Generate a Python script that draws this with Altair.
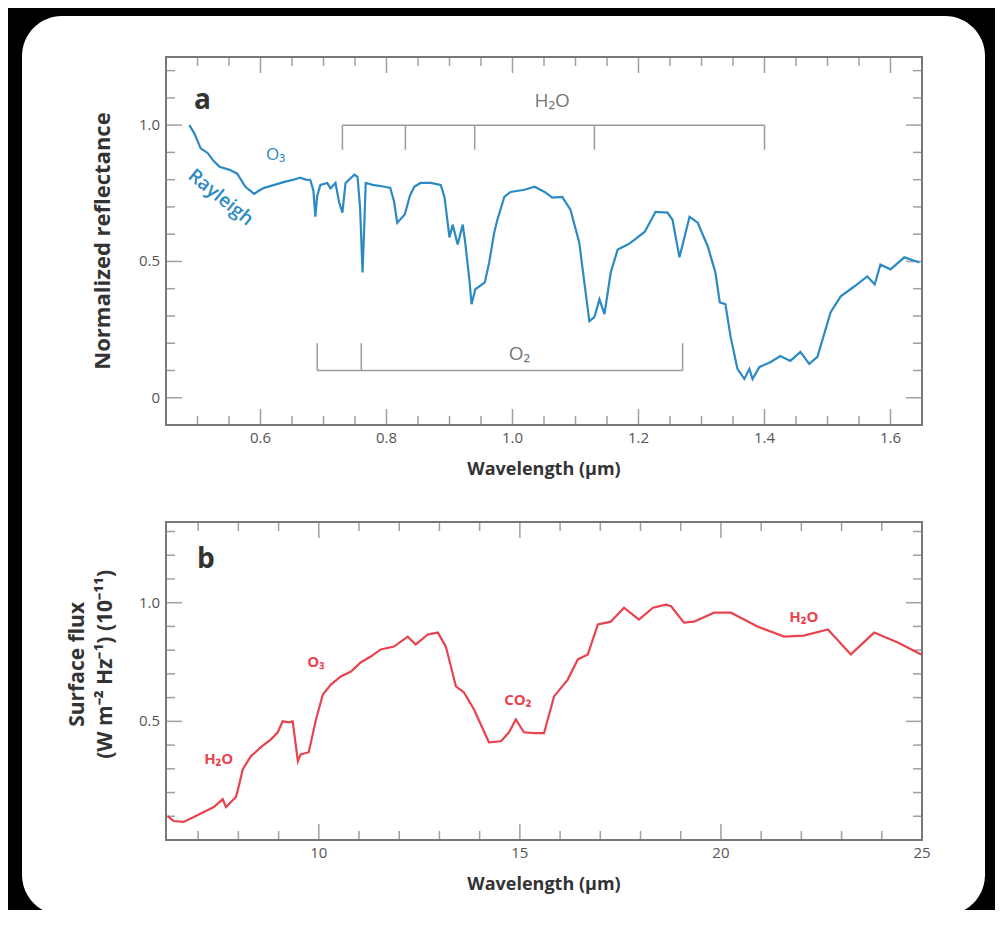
import altair as alt
import pandas as pd

# ---------------- data: panel a (reflectance) ----------------
wl_a = [0.487, 0.495, 0.505, 0.516, 0.525, 0.535, 0.551, 0.563, 0.576, 0.590, 0.598,
        0.606, 0.622, 0.638, 0.651, 0.663, 0.672, 0.679, 0.684, 0.687, 0.690, 0.695,
        0.706, 0.711, 0.719, 0.725, 0.730, 0.735, 0.749, 0.754, 0.758, 0.762, 0.765,
        0.767, 0.778, 0.797, 0.806, 0.812, 0.817, 0.829, 0.837, 0.844, 0.854, 0.870,
        0.886, 0.892, 0.900, 0.905, 0.913, 0.921, 0.925, 0.932, 0.935, 0.941, 0.956,
        0.963, 0.971, 0.976, 0.987, 0.997, 1.019, 1.035, 1.051, 1.063, 1.079, 1.092,
        1.106, 1.114, 1.122, 1.130, 1.138, 1.146, 1.156, 1.167, 1.183, 1.194, 1.210,
        1.227, 1.246, 1.254, 1.265, 1.281, 1.294, 1.310, 1.322, 1.329, 1.338, 1.346,
        1.357, 1.368, 1.376, 1.381, 1.392, 1.410, 1.425, 1.441, 1.457, 1.471, 1.484,
        1.505, 1.521, 1.543, 1.563, 1.575, 1.584, 1.600, 1.622, 1.646]
refl_a = [1.000, 0.970, 0.915, 0.898, 0.870, 0.847, 0.836, 0.822, 0.774, 0.748, 0.760,
          0.770, 0.781, 0.792, 0.799, 0.807, 0.800, 0.799, 0.760, 0.664, 0.740, 0.781,
          0.788, 0.768, 0.788, 0.715, 0.679, 0.788, 0.818, 0.810, 0.700, 0.460, 0.650,
          0.788, 0.781, 0.774, 0.770, 0.720, 0.642, 0.672, 0.740, 0.774, 0.788, 0.788,
          0.781, 0.737, 0.588, 0.635, 0.562, 0.635, 0.569, 0.423, 0.343, 0.398, 0.423,
          0.496, 0.606, 0.653, 0.737, 0.755, 0.763, 0.774, 0.755, 0.734, 0.737, 0.690,
          0.569, 0.423, 0.281, 0.296, 0.361, 0.307, 0.460, 0.544, 0.562, 0.580, 0.609,
          0.682, 0.679, 0.653, 0.515, 0.664, 0.642, 0.555, 0.460, 0.350, 0.343, 0.226,
          0.106, 0.069, 0.106, 0.069, 0.113, 0.131, 0.153, 0.135, 0.168, 0.124, 0.150,
          0.314, 0.372, 0.409, 0.445, 0.416, 0.489, 0.471, 0.515, 0.496]

# ---------------- data: panel b (surface flux) ----------------
wl_b = [6.24, 6.39, 6.64, 6.89, 7.14, 7.39, 7.61, 7.69, 7.94, 8.01, 8.11, 8.31, 8.56,
        8.81, 8.98, 9.10, 9.25, 9.35, 9.48, 9.55, 9.75, 9.93, 10.10, 10.30, 10.55,
        10.80, 11.04, 11.29, 11.54, 11.87, 12.21, 12.41, 12.71, 12.96, 13.16, 13.41,
        13.61, 13.86, 14.23, 14.53, 14.73, 14.90, 15.10, 15.35, 15.60, 15.85, 16.19,
        16.44, 16.69, 16.94, 17.26, 17.59, 17.96, 18.31, 18.63, 18.76, 19.08, 19.33,
        19.83, 20.25, 20.92, 21.57, 22.06, 22.66, 23.23, 23.81, 24.40, 24.98]
flux_b = [0.101, 0.080, 0.076, 0.097, 0.118, 0.139, 0.172, 0.139, 0.181, 0.227, 0.298,
          0.353, 0.391, 0.424, 0.454, 0.500, 0.496, 0.500, 0.332, 0.361, 0.370, 0.508,
          0.613, 0.655, 0.689, 0.710, 0.748, 0.773, 0.803, 0.815, 0.857, 0.824, 0.866,
          0.874, 0.815, 0.647, 0.622, 0.550, 0.412, 0.416, 0.454, 0.508, 0.454, 0.450,
          0.450, 0.605, 0.676, 0.761, 0.782, 0.908, 0.920, 0.979, 0.929, 0.979, 0.992,
          0.985, 0.916, 0.920, 0.958, 0.958, 0.899, 0.857, 0.861, 0.887, 0.782, 0.874,
          0.832, 0.782]

# ---------------- axes / ticks ----------------
a_xdom = [0.45, 1.65]
a_ydom = [-0.1, 1.25]
b_xdom = [6.2, 25.0]
b_ydom = [0.0, 1.34]

a_x_major = [0.6, 0.8, 1.0, 1.2, 1.4, 1.6]
a_x_labels = ["0.6", "0.8", "1.0", "1.2", "1.4", "1.6"]
a_x_minor = [0.5, 0.55, 0.65, 0.7, 0.75, 0.85, 0.9, 0.95, 1.05, 1.1, 1.15,
             1.25, 1.3, 1.35, 1.45, 1.5, 1.55]
a_y_major = [0.0, 0.5, 1.0]
a_y_labels = ["0", "0.5", "1.0"]
a_y_minor = [0.1, 0.2, 0.3, 0.4, 0.6, 0.7, 0.8, 0.9, 1.1, 1.2]

b_x_major = [10, 15, 20, 25]
b_x_labels = ["10", "15", "20", "25"]
b_x_minor = [7, 8, 9, 11, 12, 13, 14, 16, 17, 18, 19, 21, 22, 23, 24]
b_y_major = [0.5, 1.0]
b_y_labels = ["0.5", "1.0"]
b_y_minor = [0.1, 0.2, 0.3, 0.4, 0.6, 0.7, 0.8, 0.9, 1.1, 1.2, 1.3]

# axis titles
a_xtitle = "Wavelength (µm)"
a_ytitle = "Normalized reflectance"
b_xtitle = "Wavelength (µm)"
b_ytitle = ["Surface flux", "(W m⁻² Hz⁻¹) (10⁻¹¹)"]

# band brackets (panel a)
h2o_bands = [0.73, 0.83, 0.94, 1.13, 1.40]
o2_bands = [0.69, 0.76, 1.27]

# annotations
a_gray_labels = pd.DataFrame({"x": [1.063, 1.011], "y": [1.09, 0.16], "t": ["H₂O", "O₂"]})
a_blue_labels = pd.DataFrame({"x": [0.624], "y": [0.89], "t": ["O₃"]})
a_rayleigh = pd.DataFrame({"x": [0.537], "y": [0.735], "t": ["Rayleigh"]})
b_red_labels = pd.DataFrame({"x": [7.51, 9.93, 14.95, 22.06], "y": [0.34, 0.75, 0.59, 0.94],
                             "t": ["H₂O", "O₃", "CO₂", "H₂O"]})

# ---------------- geometry / style ----------------
W = 756
H = 783
A_BOTTOM = 368
B_TOP = 465

BLUE = "#2c8ac3"
RED = "#e8434f"
TICK = "#777777"
BRACKET = "#9a9a9a"
LABEL = "#555555"
TITLE = "#333333"
FONT = "Open Sans"

ax_sc = alt.Scale(domain=a_xdom, nice=False, zero=False)
ay_sc = alt.Scale(domain=a_ydom, range=[A_BOTTOM, 0], nice=False, zero=False)
bx_sc = alt.Scale(domain=b_xdom, nice=False, zero=False)
by_sc = alt.Scale(domain=b_ydom, range=[H, B_TOP], nice=False, zero=False)


def XY(xsc, ysc, xf="x", yf="y"):
    return dict(x=alt.X(f"{xf}:Q", scale=xsc, axis=None),
                y=alt.Y(f"{yf}:Q", scale=ysc, axis=None))


def frame_layers(xsc, ysc, xdom, ydom, xmaj, xmin, ymaj, ymin, xlab, ylab):
    out = []
    specs = []
    for vals, size in ((xmaj, 16), (xmin, 9)):
        specs.append(("v", vals, ydom[0], size, -size / 2))
        specs.append(("v", vals, ydom[1], size, size / 2))
    for vals, size in ((ymaj, 16), (ymin, 9)):
        specs.append(("h", vals, xdom[0], size, size / 2))
        specs.append(("h", vals, xdom[1], size, -size / 2))
    for kind, vals, other, size, off in specs:
        if kind == "v":
            df = pd.DataFrame({"x": vals, "y": [other] * len(vals)})
            m = alt.Chart(df).mark_tick(orient="vertical", size=size, thickness=1.5,
                                        color=TICK, yOffset=off)
        else:
            df = pd.DataFrame({"y": vals, "x": [other] * len(vals)})
            m = alt.Chart(df).mark_tick(orient="horizontal", size=size, thickness=1.5,
                                        color=TICK, xOffset=off)
        out.append(m.encode(**XY(xsc, ysc)))
    frame = pd.DataFrame({"x0": [xdom[0]], "x1": [xdom[1]], "y0": [ydom[0]], "y1": [ydom[1]]})
    out.append(alt.Chart(frame).mark_rect(filled=False, stroke=TICK, strokeWidth=2).encode(
        x=alt.X("x0:Q", scale=xsc, axis=None), x2="x1:Q",
        y=alt.Y("y0:Q", scale=ysc, axis=None), y2="y1:Q"))
    # tick labels
    xl = pd.DataFrame({"x": xmaj, "y": [ydom[0]] * len(xmaj), "t": xlab})
    out.append(alt.Chart(xl).mark_text(font=FONT, fontSize=15, color=LABEL, baseline="top",
                                       dy=6).encode(text="t:N", **XY(xsc, ysc)))
    yl = pd.DataFrame({"y": ymaj, "x": [xdom[0]] * len(ymaj), "t": ylab})
    out.append(alt.Chart(yl).mark_text(font=FONT, fontSize=15, color=LABEL, align="right",
                                       baseline="middle", dx=-6).encode(text="t:N", **XY(xsc, ysc)))
    return out


def xtitle_layer(xsc, ysc, xdom, ydom, text):
    df = pd.DataFrame({"x": [(xdom[0] + xdom[1]) / 2], "y": [ydom[0]], "t": [text]})
    return alt.Chart(df).mark_text(font=FONT, fontSize=18, fontWeight="bold", color=TITLE,
                                   baseline="middle", dy=45).encode(text="t:N", **XY(xsc, ysc))


# ---------------- panel a ----------------
df_a = pd.DataFrame({"wl": wl_a, "r": refl_a})
line_a = alt.Chart(df_a).mark_line(color=BLUE, strokeWidth=2.2).encode(**XY(ax_sc, ay_sc, "wl", "r"))

h2o_line = pd.DataFrame({"x0": [h2o_bands[0]], "x1": [h2o_bands[-1]], "y": [1.0]})
o2_line = pd.DataFrame({"x0": [o2_bands[0]], "x1": [o2_bands[-1]], "y": [0.1]})
h2o_ticks = pd.DataFrame({"x": h2o_bands, "y0": [1.0] * len(h2o_bands), "y1": [0.91] * len(h2o_bands)})
o2_ticks = pd.DataFrame({"x": o2_bands, "y0": [0.1] * len(o2_bands), "y1": [0.2] * len(o2_bands)})

bracket_layers = []
for d in (h2o_line, o2_line):
    bracket_layers.append(alt.Chart(d).mark_rule(color=BRACKET, strokeWidth=1.5).encode(
        x=alt.X("x0:Q", scale=ax_sc, axis=None), x2="x1:Q",
        y=alt.Y("y:Q", scale=ay_sc, axis=None)))
for d in (h2o_ticks, o2_ticks):
    bracket_layers.append(alt.Chart(d).mark_rule(color=BRACKET, strokeWidth=1.5).encode(
        x=alt.X("x:Q", scale=ax_sc, axis=None),
        y=alt.Y("y0:Q", scale=ay_sc, axis=None), y2="y1:Q"))

a_ytitle_df = pd.DataFrame({"x": [0.35], "y": [0.575], "t": [a_ytitle]})

text_a = [
    alt.Chart(a_gray_labels).mark_text(font=FONT, fontSize=19, color="#777777").encode(
        text="t:N", **XY(ax_sc, ay_sc)),
    alt.Chart(a_blue_labels).mark_text(font=FONT, fontSize=17, color=BLUE).encode(
        text="t:N", **XY(ax_sc, ay_sc)),
    alt.Chart(a_rayleigh).mark_text(font=FONT, fontSize=19, fontWeight=600, color=BLUE,
                                    angle=39).encode(text="t:N", **XY(ax_sc, ay_sc)),
    alt.Chart(pd.DataFrame({"x": [0.508], "y": [1.09], "t": ["a"]})).mark_text(
        font=FONT, fontSize=28, fontWeight="bold", color=TITLE).encode(text="t:N", **XY(ax_sc, ay_sc)),
    alt.Chart(a_ytitle_df).mark_text(font=FONT, fontSize=22, fontWeight="bold", color=TITLE,
                                     angle=270, baseline="middle").encode(text="t:N", **XY(ax_sc, ay_sc)),
    xtitle_layer(ax_sc, ay_sc, a_xdom, a_ydom, a_xtitle),
]

panel_a = alt.layer(*frame_layers(ax_sc, ay_sc, a_xdom, a_ydom, a_x_major, a_x_minor,
                                  a_y_major, a_y_minor, a_x_labels, a_y_labels),
                    *bracket_layers, line_a, *text_a)

# ---------------- panel b ----------------
df_b = pd.DataFrame({"wl": wl_b, "f": flux_b})
line_b = alt.Chart(df_b).mark_line(color=RED, strokeWidth=2.2).encode(**XY(bx_sc, by_sc, "wl", "f"))

b_ytitle_df = pd.DataFrame({"x": [4.0, 4.72], "y": [0.74, 0.74], "t": b_ytitle})

text_b = [
    alt.Chart(b_red_labels).mark_text(font=FONT, fontSize=15, fontWeight="bold", color=RED).encode(
        text="t:N", **XY(bx_sc, by_sc)),
    alt.Chart(pd.DataFrame({"x": [7.19], "y": [1.18], "t": ["b"]})).mark_text(
        font=FONT, fontSize=28, fontWeight="bold", color=TITLE).encode(text="t:N", **XY(bx_sc, by_sc)),
    alt.Chart(b_ytitle_df).mark_text(font=FONT, fontSize=21, fontWeight="bold", color=TITLE,
                                     angle=270, baseline="middle").encode(text="t:N", **XY(bx_sc, by_sc)),
    xtitle_layer(bx_sc, by_sc, b_xdom, b_ydom, b_xtitle),
]

panel_b = alt.layer(*frame_layers(bx_sc, by_sc, b_xdom, b_ydom, b_x_major, b_x_minor,
                                  b_y_major, b_y_minor, b_x_labels, b_y_labels),
                    line_b, *text_b)

# ---------------- white card behind everything ----------------
card = alt.Chart(pd.DataFrame({"k": [0]})).mark_rect(cornerRadius=40, color="white").encode(
    x=alt.value(-144), x2=alt.value(819), y=alt.value(-41), y2=alt.value(858))

chart = alt.layer(card, panel_a, panel_b).resolve_scale(
    x="independent", y="independent").properties(
    width=W, height=H,
    autosize=alt.AutoSizeParams(type="none"),
    padding={"left": 158, "top": 49, "right": 73, "bottom": 70},
    background="black",
).configure_view(stroke="transparent")

chart.save("out.html", embed_options={"renderer": "svg", "actions": False})
